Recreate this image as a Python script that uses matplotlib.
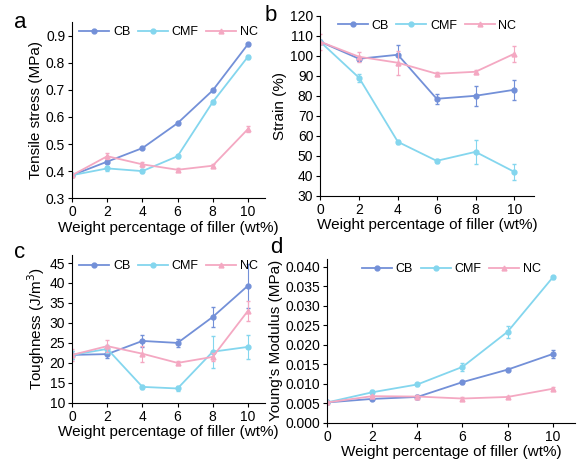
import numpy as np
import matplotlib
matplotlib.use("Agg")
import matplotlib.pyplot as plt

plt.rcParams['font.family'] = ['Liberation Sans', 'DejaVu Sans']

x = [0, 2, 4, 6, 8, 10]
labels = ["CB", "CMF", "NC"]
colors = ["#7390d8", "#84d6ee", "#f4a8c2"]
markers = ["o", "o", "^"]

stress = [[0.385, 0.435, 0.485, 0.577, 0.698, 0.868],
          [0.385, 0.410, 0.400, 0.455, 0.655, 0.822],
          [0.385, 0.455, 0.425, 0.405, 0.420, 0.555]]
stress_err = [[0.004, 0.006, 0.005, 0.005, 0.006, 0.006],
              [0.004, 0.010, 0.006, 0.006, 0.008, 0.008],
              [0.004, 0.012, 0.010, 0.005, 0.005, 0.012]]

strain = [[107, 98.5, 100.5, 78.5, 80, 83],
          [107, 89, 57, 47.5, 52, 42],
          [107, 99.5, 96.5, 91, 92, 101]]
strain_err = [[1, 1, 5, 2.5, 5, 5],
              [1, 2, 1, 1, 6, 4],
              [4, 2.5, 6, 1, 1, 4]]

tough = [[22, 22.2, 25.5, 25, 31.5, 39.3],
         [22, 23.5, 14, 13.6, 22.8, 24],
         [22, 24.2, 22.3, 20, 21.5, 33]]
tough_err = [[1, 1, 1.5, 1, 2.5, 5.5],
             [1, 1, 0.5, 0.7, 4, 3],
             [1.5, 1.5, 2, 0.5, 1, 2.5]]

modulus = [[0.0052, 0.0061, 0.0066, 0.0104, 0.0136, 0.0176],
           [0.0052, 0.0078, 0.0098, 0.0143, 0.0233, 0.0372],
           [0.0052, 0.0068, 0.0067, 0.0062, 0.0066, 0.0087]]
modulus_err = [[0.0003, 0.0004, 0.0004, 0.0004, 0.0003, 0.001],
               [0.0003, 0.0005, 0.0003, 0.001, 0.0015, 0.0005],
               [0.0003, 0.0004, 0.0003, 0.0003, 0.0003, 0.0004]]

fig = plt.figure(figsize=(5.77, 4.62), dpi=100)
rects = [[0.125, 0.571, 0.335, 0.381],
         [0.555, 0.576, 0.37, 0.39],
         [0.125, 0.128, 0.335, 0.32],
         [0.567, 0.085, 0.43, 0.355]]
panels = [
    ("a", stress, stress_err, "Tensile stress (MPa)", (0.3, 0.95), np.arange(0.3, 0.91, 0.1), "{:.1f}", -0.3, 1.0),
    ("b", strain, strain_err, "Strain (%)", (30, 120), np.arange(30, 121, 10), "{:.0f}", -0.26, 1.0),
    ("c", tough, tough_err, "Toughness (J/m$^3$)", (10, 47), np.arange(10, 46, 5), "{:.0f}", -0.3, 1.02),
    ("d", modulus, modulus_err, "Young's Modulus (MPa)", (0, 0.042), np.arange(0, 0.0401, 0.005), "{:.3f}", -0.23, 1.07),
]

for rect, (letter, ys, errs, ylab, ylim, yt, fmt, lx, ly) in zip(rects, panels):
    ax = fig.add_axes(rect)
    for y, e, lab, c, m in zip(ys, errs, labels, colors, markers):
        ax.errorbar(x, y, yerr=e, color=c, fmt="none", capsize=1.5, elinewidth=0.8)
        ax.plot(x, y, color=c, marker=m, markersize=3.5, lw=1.3, label=lab)
    ax.set_xlim(0, 11)
    ax.set_ylim(*ylim)
    ax.set_xticks(x)
    ax.set_yticks(yt)
    ax.set_yticklabels([fmt.format(v) for v in yt])
    ax.spines['top'].set_visible(False)
    ax.spines['right'].set_visible(False)
    ax.tick_params(labelsize=10, length=3, pad=2)
    ax.set_xlabel("Weight percentage of filler (wt%)", fontsize=11, labelpad=1)
    ax.set_ylabel(ylab, fontsize=11, labelpad=2)
    ax.legend(loc="upper center", ncol=3, frameon=False, fontsize=9,
              handlelength=2.4, columnspacing=0.6, handletextpad=0.3,
              bbox_to_anchor=(0.5, 1.04))
    ax.text(lx, ly, letter, transform=ax.transAxes, fontsize=16, va="center")

fig.savefig("out.png", dpi=100)
